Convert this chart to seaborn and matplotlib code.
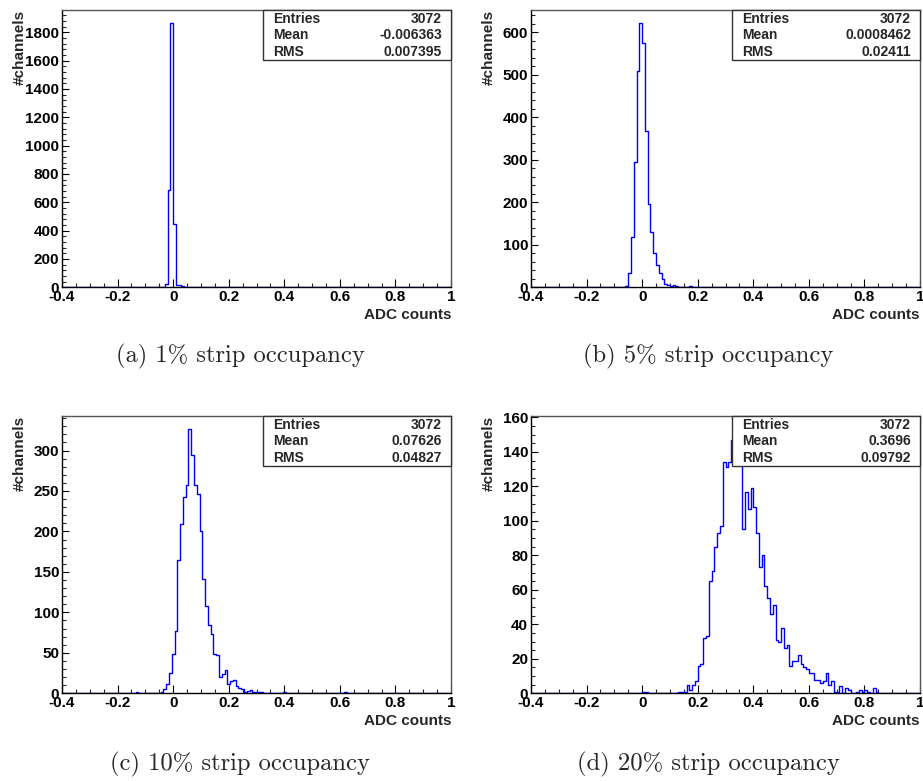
import numpy as np
import pandas as pd
import matplotlib
matplotlib.use("Agg")
import matplotlib.pyplot as plt
import seaborn as sns
from matplotlib.patches import Rectangle
from matplotlib.ticker import MultipleLocator, FuncFormatter

# ---------------- data ----------------
captions = ["(a) 1% strip occupancy", "(b) 5% strip occupancy",
            "(c) 10% strip occupancy", "(d) 20% strip occupancy"]
entries = ["3072", "3072", "3072", "3072"]
means = ["-0.006363", "0.0008462", "0.07626", "0.3696"]
rmss = ["0.007395", "0.02411", "0.04827", "0.09792"]

# left edge of first listed bin, then consecutive bin counts (bin width 0.01)
a_start = -0.04
a_counts = [2, 25, 685, 1862, 450, 15, 13, 10, 3, 1, 0, 1, 0, 0, 0, 2]

b_start = -0.06
b_counts = [3, 33, 119, 296, 508, 621, 576, 368, 196, 131,
            81, 52, 33, 19, 8, 5, 3, 5, 2, 0,
            0, 0, 0, 2, 0, 0, 0, 0, 0, 0,
            0, 0, 0, 0, 0, 0, 0, 0, 0, 0,
            0, 0, 0, 0, 0, 0, 0, 0, 0, 0,
            1]

c_start = -0.135
c_counts = [1, 0, 0, 0, 0, 0, 0, 0, 0, 1,
            5, 12, 25, 48, 77, 165, 209, 243, 257, 326,
            295, 257, 246, 200, 141, 108, 85, 73, 48, 47,
            20, 24, 29, 12, 15, 16, 9, 7, 5, 2,
            3, 4, 2, 2, 2, 1, 0, 0, 0, 0,
            0, 0, 0, 1, 0, 0, 0, 0, 0, 0,
            0, 0, 0, 0, 0, 0, 0, 0, 0, 0,
            0, 0, 0, 0, 0, 1]

d_start = 0.00
d_counts = [1, 1, 0, 0, 0, 0, 0, 0, 0, 0,
            0, 0, 0, 1, 1, 1, 5, 2, 5, 7,
            16, 17, 32, 33, 65, 71, 85, 93, 97, 134,
            131, 134, 147, 148, 153, 140, 95, 117, 107, 119,
            108, 93, 73, 80, 62, 55, 46, 51, 31, 30,
            38, 26, 28, 16, 19, 19, 22, 17, 15, 14,
            12, 12, 8, 8, 6, 7, 12, 5, 7, 1,
            1, 4, 0, 3, 2, 0, 0, 1, 2, 1,
            2, 1, 0, 3, 1]

starts = [a_start, b_start, c_start, d_start]
counts_list = [a_counts, b_counts, c_counts, d_counts]
range_lo = [-0.4, -0.4, -0.405, -0.4]   # histogram range (panel c bins sit half a bin off)
range_hi = [1.0, 1.0, 1.005, 1.0]
y_major = [200, 100, 50, 20]
y_minor = [40, 20, 10, 5]

# ---------------- style ----------------
sns.set_style("white")
plt.rcParams["font.family"] = ["Liberation Sans", "DejaVu Sans"]
plt.rcParams["font.weight"] = "bold"
plt.rcParams["axes.unicode_minus"] = False

fig = plt.figure(figsize=(9.23, 7.81), dpi=100)
W, H = 923.0, 781.0
ax_pos = [(62, 287.3), (531, 287.3), (62, 693.3), (531, 693.3)]
ax_w, ax_h = 389.0, 277.0
cap_pos = [(240, 356), (708, 356), (240, 764), (708, 764)]


def fmt(v, p):
    if abs(v) < 1e-9:
        return "0"
    return "%g" % round(v, 6)


for i in range(4):
    x0, yb = ax_pos[i]
    ax = fig.add_axes([x0 / W, 1 - yb / H, ax_w / W, ax_h / H])
    lo, hi = range_lo[i], range_hi[i]
    nb = int(round((hi - lo) / 0.01))
    edges = lo + 0.01 * np.arange(nb + 1)
    full = np.zeros(nb)
    i0 = int(round((starts[i] - lo) / 0.01))
    full[i0:i0 + len(counts_list[i])] = counts_list[i]
    df = pd.DataFrame({"adc": edges[:-1] + 0.005, "n": full})
    sns.histplot(data=df, x="adc", weights="n", bins=list(edges), element="step",
                 fill=False, color="#0000ff", linewidth=1.0, ax=ax)
    ax.set_xlim(-0.4, 1.0)
    ax.set_ylim(0, 1.05 * max(counts_list[i]))
    ax.set_xlabel("")
    ax.set_ylabel("")

    ax.xaxis.set_major_locator(MultipleLocator(0.2))
    ax.xaxis.set_minor_locator(MultipleLocator(0.05))
    ax.yaxis.set_major_locator(MultipleLocator(y_major[i]))
    ax.yaxis.set_minor_locator(MultipleLocator(y_minor[i]))
    ax.xaxis.set_major_formatter(FuncFormatter(fmt))
    ax.yaxis.set_major_formatter(FuncFormatter(fmt))
    ax.tick_params(axis="x", which="major", direction="in", length=5.8, width=0.8,
                   top=False, bottom=True, pad=2, labelsize=11, colors="black")
    ax.tick_params(axis="x", which="minor", direction="in", length=2.9, width=0.8,
                   top=False, bottom=True)
    ax.tick_params(axis="y", which="major", direction="in", length=4.8, width=0.8,
                   right=False, left=True, pad=2, labelsize=11, colors="black")
    ax.tick_params(axis="y", which="minor", direction="in", length=3.0, width=0.8,
                   right=False, left=True)
    for lab in ax.get_xticklabels() + ax.get_yticklabels():
        lab.set_fontweight("bold")

    for s in ["left", "bottom"]:
        ax.spines[s].set_color("black")
        ax.spines[s].set_linewidth(1.0)
    for s in ["top", "right"]:
        ax.spines[s].set_color("#555555")
        ax.spines[s].set_linewidth(1.0)

    # axis titles
    ax.text(-0.109, 1.0, "#channels", rotation=90, ha="center", va="top",
            transform=ax.transAxes, fontsize=11, fontweight="bold")
    ax.text(1.0, -0.101, "ADC counts", ha="right", va="center",
            transform=ax.transAxes, fontsize=11, fontweight="bold")

    # statistics box
    bx, bh = 0.5175, 0.1805
    ax.add_patch(Rectangle((bx, 1 - bh), 1 - bx, bh, transform=ax.transAxes,
                           facecolor="white", edgecolor="#333333", linewidth=1.0,
                           zorder=5, clip_on=False))
    rows = [("Entries", entries[i]), ("Mean", means[i]), ("RMS", rmss[i])]
    for r, (k, v) in enumerate(rows):
        yy = 1 - bh * (2 * r + 1) / 6.0
        ax.text(0.5424, yy, k, ha="left", va="center", transform=ax.transAxes,
                fontsize=10, fontweight="bold", zorder=6)
        ax.text(0.977, yy, v, ha="right", va="center", transform=ax.transAxes,
                fontsize=10, fontweight="bold", zorder=6)

    cx, cy = cap_pos[i]
    fig.text(cx / W, 1 - cy / H, captions[i], ha="center", va="center",
             fontsize=17.7, family="cmr10", fontweight="normal")

fig.savefig("out.png", dpi=100)
